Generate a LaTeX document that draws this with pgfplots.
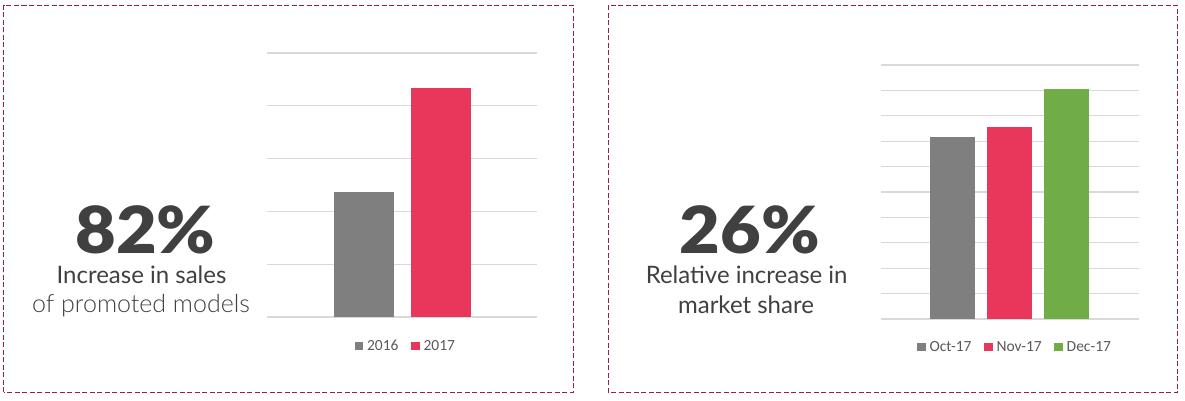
\documentclass[border=0pt]{standalone}
\usepackage{pgfplots}
\pgfplotsset{compat=1.18}
\usepackage{fontspec}
\setmainfont{Carlito}
\newfontfamily\lato{Lato}
\newfontfamily\latolight{Lato Light}
\newfontfamily\latoblack{Lato Black}
\definecolor{barGray}{HTML}{7F7F7F}
\definecolor{barRed}{HTML}{E8375A}
\definecolor{barGreen}{HTML}{70AD47}
\definecolor{gridc}{HTML}{D9D9D9}
\definecolor{txt}{HTML}{404040}
\definecolor{legtxt}{HTML}{595959}
\definecolor{framec}{HTML}{9E1C3E}
\pgfplotsset{
  promo/.style={
    ybar, scale only axis,
    axis line style={draw=none},
    major tick style={draw=none},
    xtick=\empty,
    yticklabels={},
    ymajorgrids,
    grid style={gridc, line width=1.2pt},
    ymin=0, xmin=-1, xmax=1,
    legend columns=-1,
    legend style={draw=none, fill=none, font=\fontsize{15.5}{18}\selectfont, text=legtxt, anchor=center,
      /tikz/every odd column/.append style={column sep=2pt},
      /tikz/every even column/.append style={column sep=10.5pt}},
    every axis plot post/.append style={
      legend image code/.code={\fill[####1, draw=none] (0pt,-4.25pt) rectangle (8.5pt,4.25pt);}},
  }
}
\begin{document}
\begin{tikzpicture}
\path[use as bounding box] (0,0) rectangle (1185pt,401pt);
\draw[framec, line width=1pt, dash pattern=on 5pt off 2.5pt] (3.5pt,8.7pt) rectangle (573.3pt,395.7pt);
\draw[framec, line width=1pt, dash pattern=on 5pt off 2.5pt] (608.3pt,8.3pt) rectangle (1177.3pt,395.7pt);

\begin{axis}[promo, at={(267pt,84pt)}, anchor=south west, width=270pt, height=264pt,
  ymax=5, ytick={0,...,5}, bar width=60pt, ybar=17pt,
  legend style={at={(0.514,-0.109)}}]
\addplot[fill=barGray, draw=none] coordinates {(0,2.37)};
\addplot[fill=barRed, draw=none] coordinates {(0,4.33)};
\legend{2016,2017}
\end{axis}

\begin{axis}[promo, at={(881pt,82pt)}, anchor=south west, width=257.7pt, height=254pt,
  ymax=10, ytick={0,...,10}, bar width=45pt, ybar=12pt,
  legend style={at={(0.52,-0.110)}}]
\addplot[fill=barGray, draw=none] coordinates {(0,7.18)};
\addplot[fill=barRed, draw=none] coordinates {(0,7.55)};
\addplot[fill=barGreen, draw=none] coordinates {(0,9.04)};
\legend{Oct-17,Nov-17,Dec-17}
\end{axis}

\node[anchor=base, text=txt, inner sep=0pt] at (145.5pt,147pt) {\scalebox{1.08}[1]{\latoblack\fontsize{65}{65}\selectfont 82\%}};
\node[anchor=base, text=txt, inner sep=0pt] at (141.5pt,117pt) {\lato\fontsize{24}{24}\selectfont Increase in sales};
\node[anchor=base, text=txt, inner sep=0pt] at (141pt,88pt) {\latolight\fontsize{25}{25}\selectfont of promoted models};

\node[anchor=base, text=txt, inner sep=0pt] at (750pt,147pt) {\scalebox{1.08}[1]{\latoblack\fontsize{65}{65}\selectfont 26\%}};
\node[anchor=base, text=txt, inner sep=0pt] at (746.7pt,117.7pt) {\lato\fontsize{24}{24}\selectfont Relative increase in};
\node[anchor=base, text=txt, inner sep=0pt] at (746pt,87.7pt) {\lato\fontsize{24}{24}\selectfont market share};
\end{tikzpicture}
\end{document}
